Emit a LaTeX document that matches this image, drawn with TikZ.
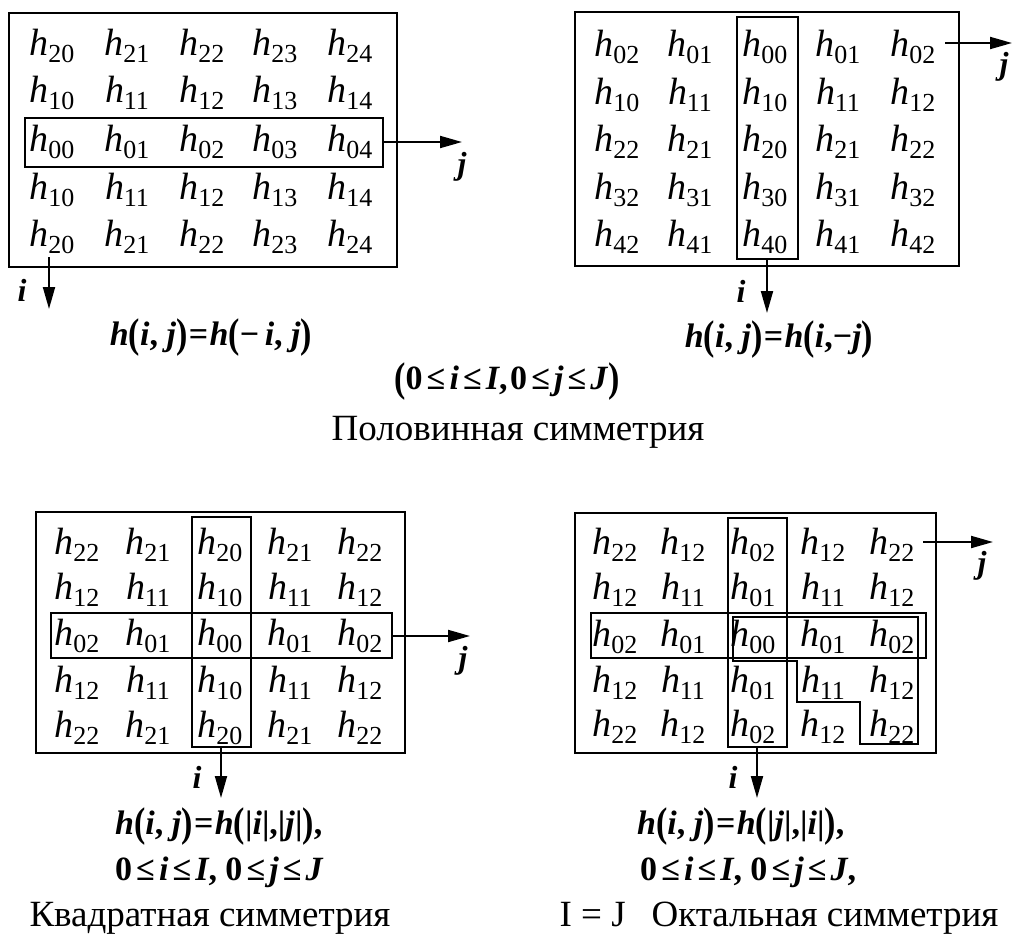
\documentclass[tikz,border=0pt]{standalone}
\usepackage{fontspec}
\setmainfont{Liberation Serif}
\usepackage{graphicx}
\usetikzlibrary{arrows.meta}
\newcommand\hc[1]{\textit{h}\kern-0.01em\raisebox{-0.2em}{\fontsize{26}{26}\selectfont #1}}
\newcommand\LP{\raisebox{-0.07em}{\scalebox{1}[1.22]{(}}}
\newcommand\RP{\raisebox{-0.07em}{\scalebox{1}[1.22]{)}}}
\newcommand\li{\textit{i}}
\newcommand\lj{\textit{j}}
\newcommand\rel[1]{\hspace{0.12em}#1\hspace{0.12em}}
\newcommand\req[1]{\hspace{0.04em}#1\hspace{0.04em}}
\begin{document}
\begin{tikzpicture}[x=1pt,y=-1pt,
  cell/.style={inner sep=0pt, font=\fontsize{38}{44}\selectfont},
  frame/.style={line width=2.4pt},
  sel/.style={line width=1.9pt},
  axis/.style={line width=2pt, -{Triangle[length=22pt,width=12pt]}},
  axlab/.style={inner sep=0pt, font=\fontsize{32}{36}\selectfont\bfseries\itshape},
  frm/.style={inner sep=0pt, font=\fontsize{34}{40}\selectfont\bfseries},
  captxt/.style={inner sep=0pt, font=\fontsize{37}{42}\selectfont}]
\useasboundingbox (0,0) rectangle (1013,937);

% ---------- panel 1 ----------
\draw[frame] (9,13) rectangle (397,267);
\draw[sel] (25,118) rectangle (383,167);
\foreach \y/\vals [count=\r] in {46/{20,21,22,23,24},93/{10,11,12,13,14},142/{00,01,02,03,04},190/{10,11,12,13,14},237/{20,21,22,23,24}}{
  \foreach \v [count=\c] in \vals {
    \pgfmathsetmacro\xx{{52,127,202,275,350}[\c-1]}
    \node[cell] (a\r\c) at (\xx,\y) {\hc{\v}};
  }
}
\coordinate (a-js) at (383,142);
\coordinate (a-je) at (462,142);
\coordinate (a-is) at (49,257);
\coordinate (a-ie) at (49,309);
\draw[axis] (a-js) -- (a-je);
\draw[axis] (a-is) -- (a-ie);
\node[axlab] (a-j) at (462,167) {j};
\node[axlab] (a-i) at (22,290) {i};
\node[frm] (a-f) at (211,338) {\textit{h}\LP\li, \lj\RP\req{=}\textit{h}\LP−\,\li, \lj\RP};

% ---------- panel 2 ----------
\draw[frame] (575,12) rectangle (959,266);
\draw[sel] (737,17) rectangle (798,259);
\foreach \y/\vals [count=\r] in {47/{02,01,00,01,02},95/{10,11,10,11,12},142/{22,21,20,21,22},190/{32,31,30,31,32},237/{42,41,40,41,42}}{
  \foreach \v [count=\c] in \vals {
    \pgfmathsetmacro\xx{{617,690,765,838,913}[\c-1]}
    \node[cell] (b\r\c) at (\xx,\y) {\hc{\v}};
  }
}
\coordinate (b-js) at (945,43);
\coordinate (b-je) at (1012,43);
\coordinate (b-is) at (767,259);
\coordinate (b-ie) at (767,313);
\draw[axis] (b-js) -- (b-je);
\draw[axis] (b-is) -- (b-ie);
\node[axlab] (b-j) at (1004,67) {j};
\node[axlab] (b-i) at (741,291) {i};
\node[frm] (b-f) at (779,340) {\textit{h}\LP\li, \lj\RP\req{=}\textit{h}\LP\li,−\lj\RP};

% ---------- middle ----------
\node[frm] (m-c) at (507,382) {\LP0\rel{≤}\li\rel{≤}\textit{I},\hspace{0.08em}0\rel{≤}\lj\rel{≤}\textit{J}\RP};
\node[captxt] (m-t) at (518,432) {Половинная симметрия};

% ---------- panel 3 ----------
\draw[frame] (36,512) rectangle (405,753);
\draw[sel] (192,517) rectangle (251,747);
\draw[sel] (51,613) rectangle (392,658);
\foreach \y/\vals [count=\r] in {545/{22,21,20,21,22},590/{12,11,10,11,12},636/{02,01,00,01,02},683/{12,11,10,11,12},728/{22,21,20,21,22}}{
  \foreach \v [count=\c] in \vals {
    \pgfmathsetmacro\xx{{77,148,220,290,360}[\c-1]}
    \node[cell] (c\r\c) at (\xx,\y) {\hc{\v}};
  }
}
\coordinate (c-js) at (392,636);
\coordinate (c-je) at (470,636);
\coordinate (c-is) at (221,747);
\coordinate (c-ie) at (221,798);
\draw[axis] (c-js) -- (c-je);
\draw[axis] (c-is) -- (c-ie);
\node[axlab] (c-j) at (463,661) {j};
\node[axlab] (c-i) at (197,777) {i};
\node[frm,anchor=west] (c-f) at (115,827) {\textit{h}\LP\li, \lj\RP\req{=}\textit{h}\LP|\li|,|\lj|\RP,};
\node[frm,anchor=west] (c-c) at (115,872) {0\rel{≤}\li\rel{≤}\textit{I}, 0\rel{≤}\lj\rel{≤}\textit{J}};
\node[captxt] (c-t) at (210,918) {Квадратная симметрия};

% ---------- panel 4 ----------
\draw[frame] (575,513) rectangle (936,753);
\draw[sel] (728,518) rectangle (787,747);
\draw[sel] (591,613) rectangle (926,658);
\draw[sel] (733,617) -- (918,617) -- (918,744) -- (860,744) -- (860,702) -- (797,702) -- (797,661) -- (733,661) -- cycle;
\foreach \y/\vals [count=\r] in {545/{22,12,02,12,22},590/{12,11,01,11,12},637/{02,01,00,01,02},683/{12,11,01,11,12},727/{22,12,02,12,22}}{
  \foreach \v [count=\c] in \vals {
    \pgfmathsetmacro\xx{{615,683,753,823,892}[\c-1]}
    \node[cell] (d\r\c) at (\xx,\y) {\hc{\v}};
  }
}
\coordinate (d-js) at (923,542);
\coordinate (d-je) at (993,542);
\coordinate (d-is) at (757,747);
\coordinate (d-ie) at (757,798);
\draw[axis] (d-js) -- (d-je);
\draw[axis] (d-is) -- (d-ie);
\node[axlab] (d-j) at (982,566) {j};
\node[axlab] (d-i) at (733,777) {i};
\node[frm,anchor=west] (d-f) at (637,827) {\textit{h}\LP\li, \lj\RP\req{=}\textit{h}\LP|\lj|,|\li|\RP,};
\node[frm,anchor=west] (d-c) at (640,872) {0\rel{≤}\li\rel{≤}\textit{I}, 0\rel{≤}\lj\rel{≤}\textit{J},};
\node[captxt] (d-t) at (779,918) {I = J\hspace{0.7em}Октальная симметрия};
\end{tikzpicture}
\end{document}
